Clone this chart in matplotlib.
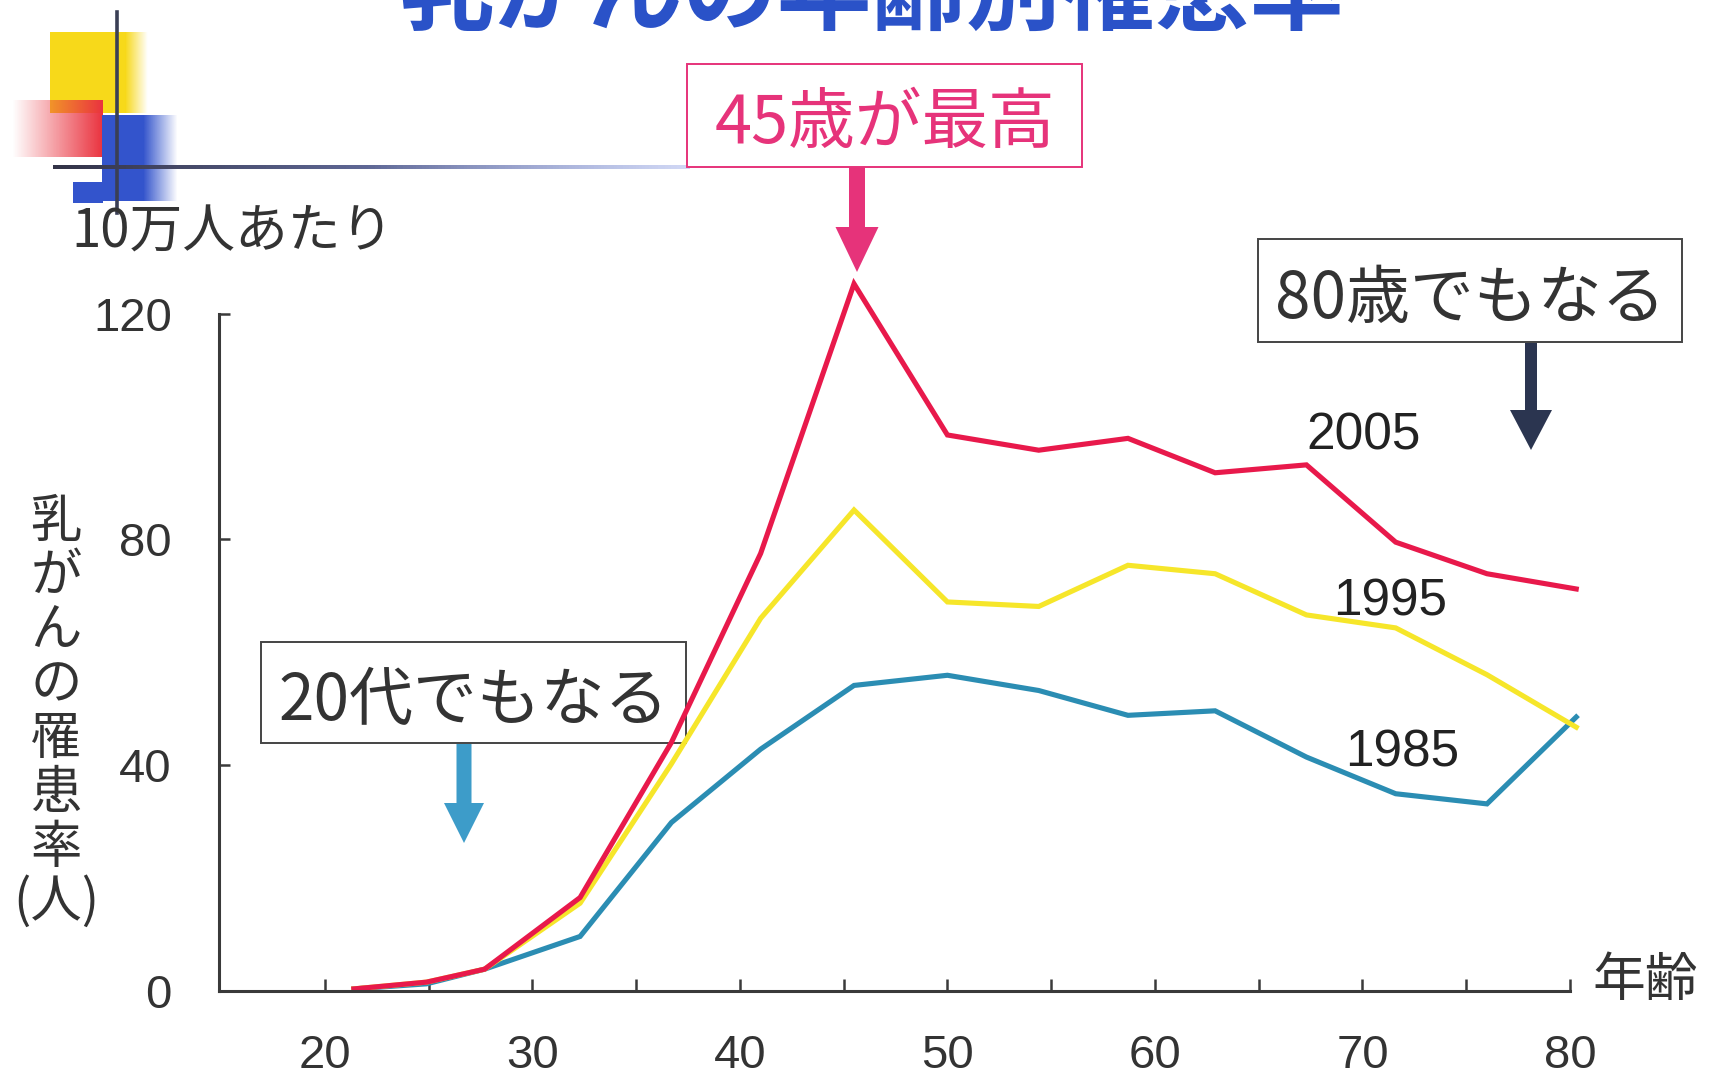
import numpy as np
import matplotlib
matplotlib.use("Agg")
import matplotlib.pyplot as plt
from matplotlib.patches import Rectangle, FancyArrow

plt.rcParams['font.family'] = ['Noto Sans CJK JP', 'DejaVu Sans']
NARROW = ['Liberation Sans Narrow', 'Liberation Sans', 'DejaVu Sans']

# incidence per 100,000 women by age group
ages = [21.4, 24.9, 27.7, 32.3, 36.7, 41.0, 45.5, 50.0, 54.4, 58.7, 62.9, 67.3, 71.6, 76.0, 80.3]
rate_2005 = [0.3, 1.5, 3.8, 16.5, 44.0, 77.5, 125.3, 98.5, 95.8, 97.9, 91.8, 93.2, 79.5, 73.9, 71.2]
rate_1995 = [0.3, 1.5, 3.8, 15.5, 40.2, 66.0, 85.2, 68.9, 68.1, 75.4, 73.9, 66.6, 64.3, 56.0, 46.7]
rate_1985 = [0.3, 1.2, 3.8, 9.6, 29.8, 42.8, 54.1, 55.9, 53.2, 48.8, 49.6, 41.4, 34.9, 33.1, 48.5]

series = [("1985", rate_1985, "#2b8db3"),
          ("1995", rate_1995, "#f6e62a"),
          ("2005", rate_2005, "#e8194b")]

xticks = [20, 30, 40, 50, 60, 70, 80]
minor_xticks = [25, 35, 45, 55, 65, 75]
yticks = [0, 40, 80, 120]

W, H = 1720, 1088
fig = plt.figure(figsize=(W / 100, H / 100), dpi=100)
fig.patch.set_facecolor("white")

# pixel-space overlay for the decorations, boxes and arrows
bg = fig.add_axes([0, 0, 1, 1], zorder=0)
bg.set_xlim(0, W)
bg.set_ylim(H, 0)
bg.axis("off")


def fade(rgb, n, direction):
    """RGBA strip that fades the colour out toward one side."""
    a = np.linspace(0, 1, n)
    if direction == "left":
        alpha = a
    else:
        alpha = a[::-1]
    img = np.zeros((1, n, 4))
    img[0, :, :3] = rgb
    img[0, :, 3] = alpha
    return img


# corner decoration: yellow / red / blue squares with crossing lines
yellow = np.array([0.97, 0.85, 0.10])
red = np.array([0.92, 0.20, 0.25])
blue = np.array([0.20, 0.33, 0.80])

bg.add_patch(Rectangle((50, 32), 76, 81, color=yellow, lw=0, zorder=1))
bg.imshow(fade(yellow, 40, "right"), extent=(125, 148, 113, 32), aspect="auto", zorder=1)
bg.imshow(fade(red, 60, "left"), extent=(12, 103, 157, 100), aspect="auto", zorder=2)
bg.add_patch(Rectangle((102, 115), 42, 86, color=blue, lw=0, zorder=3))
bg.add_patch(Rectangle((73, 182), 30, 21, color=blue, lw=0, zorder=3))
bg.imshow(fade(blue, 40, "right"), extent=(143, 178, 201, 115), aspect="auto", zorder=3)
bg.plot([117, 117], [12, 213], color="#3a3f55", lw=2.6, zorder=4)

line_img = np.zeros((1, 200, 4))
mix = np.linspace(0, 1, 200)[:, None]
line_img[0, :, :3] = (1 - mix) * np.array([0.2, 0.2, 0.28]) + mix * np.array([0.55, 0.62, 0.9])
line_img[0, :, 3] = np.clip(1.6 - 1.2 * mix[:, 0], 0, 1)
bg.imshow(line_img, extent=(53, 690, 169, 165), aspect="auto", zorder=4)

# title, cut off by the top edge
fig.text(872 / W, 1 - 43 / H, "乳がんの年齢別罹患率", color="#2a52c8",
         fontsize=68, fontweight="bold", ha="center", va="bottom")

fig.text(71 / W, 1 - 232 / H, "10万人あたり", color="#333333",
         fontsize=38, ha="left", va="center", zorder=5)

ylab = "\n".join(list("乳がんの罹患率")) + "\n(人)"
fig.text(56 / W, 1 - 712 / H, ylab, color="#333333", fontsize=37,
         ha="center", va="center", linespacing=1.02)

fig.text(1645 / W, 1 - 981 / H, "年齢", color="#333333", fontsize=38,
         ha="center", va="center")

# main plot
ax = fig.add_axes([219 / W, 1 - 990.6 / H, (1570 - 219) / W, (990.6 - 313.7) / H], zorder=2)
ax.set_facecolor("none")
for name, vals, col in series:
    ax.plot(ages, vals, color=col, lw=3.7, clip_on=False, solid_joinstyle="miter")

ax.set_xlim(14.9, 80)
ax.set_ylim(0, 120)
ax.spines["top"].set_visible(False)
ax.spines["right"].set_visible(False)
for s in ("left", "bottom"):
    ax.spines[s].set_color("#3a3a3a")
    ax.spines[s].set_linewidth(2.2)

ax.set_xticks(xticks)
ax.set_xticks(minor_xticks, minor=True)
ax.set_yticks(yticks)
ax.tick_params(axis="both", which="both", direction="in", color="#3a3a3a", width=1.8)
ax.tick_params(axis="x", which="both", length=9)
ax.tick_params(axis="x", which="major", pad=31, labelsize=34, labelcolor="#333333")
ax.tick_params(axis="y", length=8, pad=34, labelsize=34, labelcolor="#333333")
for lab in ax.get_xticklabels() + ax.get_yticklabels():
    lab.set_family(NARROW)

# year labels next to the lines
label_pos = {"2005": (1364, 436), "1995": (1390, 602), "1985": (1402, 753)}
for name, (px, py) in label_pos.items():
    fig.text(px / W, 1 - py / H, name, color="#222222", fontsize=37,
             family=NARROW, ha="center", va="center", zorder=6)

# callout boxes with arrows
callouts = [
    ("45歳が最高", (687, 64, 1082, 167), "#e6337a", "#e6337a", 48, (857, 167, 272, 16, 43, 45)),
    ("80歳でもなる", (1258, 239, 1682, 342), "#333333", "#2b3550", 46, (1531, 343, 450, 12, 42, 40)),
    ("20代でもなる", (261, 642, 686, 743), "#333333", "#3d9cc9", 46, (464, 744, 843, 15, 40, 40)),
]
for txt, (x0, y0, x1, y1), tcol, acol, fs, (axp, ay0, ay1, sw, hw, hl) in callouts:
    edge = tcol if tcol != "#333333" else "#444444"
    bg.add_patch(Rectangle((x0, y0), x1 - x0, y1 - y0, facecolor="white",
                           edgecolor=edge, lw=1.4, zorder=5))
    bg.text((x0 + x1) / 2, (y0 + y1) / 2 + 9, txt, color=tcol, fontsize=fs,
            ha="center", va="center", zorder=6)
    bg.add_patch(FancyArrow(axp, ay0, 0, ay1 - ay0, width=sw, head_width=hw,
                            head_length=hl, length_includes_head=True,
                            color=acol, lw=0, zorder=6))

fig.savefig("out.png", dpi=100)
